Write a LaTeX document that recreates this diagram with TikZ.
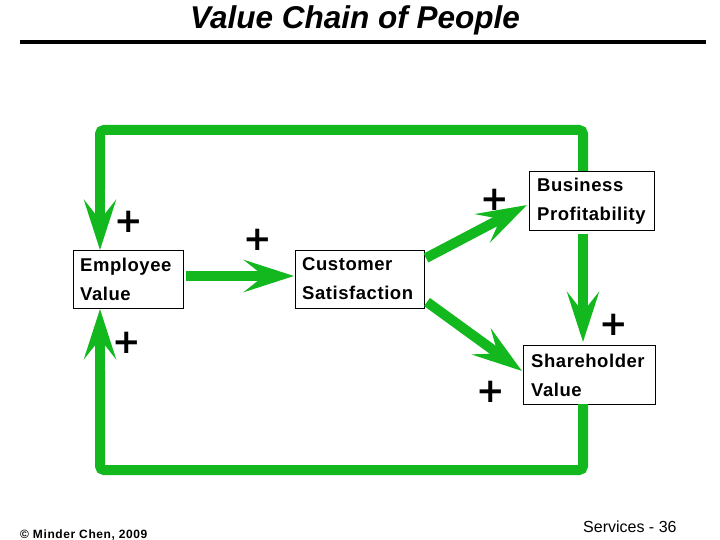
\documentclass[tikz,border=0pt]{standalone}
\usepackage{fontspec}
\setmainfont{Liberation Sans}
\newfontfamily\plusfont{DejaVu Sans}
\usetikzlibrary{arrows.meta}
\definecolor{vgreen}{RGB}{18,184,30}
\begin{document}
\begin{tikzpicture}[x=1pt,y=-1pt,
  box/.style={draw=black,line width=0.8pt,fill=white,inner sep=0pt,anchor=north west},
  btext/.style={anchor=west,align=left,inner sep=0pt,font=\bfseries\fontsize{18.5}{29}\addfontfeatures{LetterSpace=3}\selectfont},
  flow/.style={draw=vgreen,line width=10pt,-{Stealth[length=50pt,width=32pt,inset=20pt]}},
  loop/.style={draw=vgreen,line width=10pt,rounded corners=4pt},
  plus/.style={font=\plusfont\bfseries\fontsize{34}{34}\selectfont,inner sep=0pt}]
\useasboundingbox (0,0) rectangle (720,540);
\node[font=\bfseries\itshape\fontsize{31.5}{31.5}\selectfont] (title) at (355,20) {Value Chain of People};
\draw[line width=4pt] (20,42) -- (706,42);

\node[box,minimum width=110pt,minimum height=58pt] (emp) at (73,250) {};
\node[btext] (empt) at (80,279) {Employee\\Value};
\node[box,minimum width=129pt,minimum height=58pt] (cust) at (295,250) {};
\node[btext] (custt) at (302,279) {Customer\\Satisfaction};
\node[box,minimum width=125pt,minimum height=59pt] (bus) at (529,171) {};
\node[btext] (bust) at (537,201) {Business\\Profitability};
\node[box,minimum width=132pt,minimum height=59pt] (sh) at (523,345) {};
\node[btext] (sht) at (531,375) {Shareholder\\Value};

\coordinate (t1) at (583,171);
\coordinate (t2) at (583,130);
\coordinate (t3) at (100,130);
\coordinate (t4) at (100,250);
\coordinate (b1) at (583,404);
\coordinate (b2) at (583,470);
\coordinate (b3) at (100,470);
\coordinate (b4) at (100,309);
\draw[loop] (t1) -- (t2) -- (t3) -- (100,190);
\draw[flow] (100,185) -- (t4);
\draw[loop] (b1) -- (b2) -- (b3) -- (100,370);
\draw[flow] (100,375) -- (b4);

\coordinate (e1) at (186,276);
\coordinate (e2) at (294,276);
\draw[flow] (e1) -- (e2);
\coordinate (c1) at (426,258);
\coordinate (c2) at (527,205);
\draw[flow] (c1) -- (c2);
\coordinate (c3) at (427,302);
\coordinate (c4) at (522,371);
\draw[flow] (c3) -- (c4);
\coordinate (p1) at (583,234);
\coordinate (p2) at (583,342);
\draw[flow] (p1) -- (p2);

\node[plus] (pl1) at (129,222) {+};
\node[plus] (pl2) at (258,240) {+};
\node[plus] (pl3) at (495,200) {+};
\node[plus] (pl4) at (614,325) {+};
\node[plus] (pl5) at (127,343) {+};
\node[plus] (pl6) at (491,392) {+};

\node[anchor=west,font=\bfseries\fontsize{12}{12}\addfontfeatures{LetterSpace=5}\selectfont,inner sep=0pt] (copy) at (20,535) {© Minder Chen, 2009};
\node[anchor=west,font=\fontsize{16}{16}\selectfont,inner sep=0pt] (pg) at (583,527) {Services - 36};
\end{tikzpicture}
\end{document}
